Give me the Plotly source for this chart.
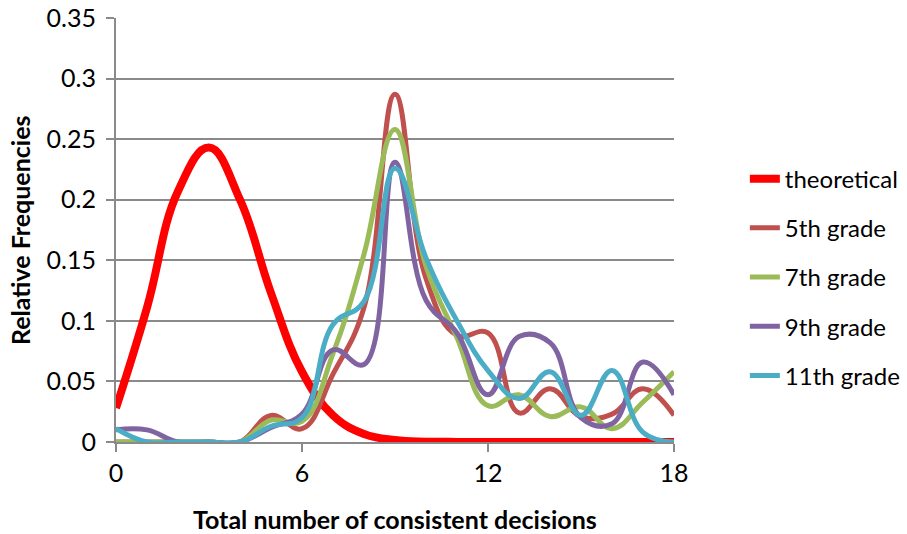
import plotly.graph_objects as go

x_vals = list(range(19))

theoretical = [0.028, 0.111, 0.207, 0.243, 0.200, 0.123, 0.058, 0.022, 0.0066, 0.0016,
               0.0003, 0.0001, 0, 0, 0, 0, 0, 0, 0]
grade5 = [0, 0, 0, 0, 0, 0.022, 0.011, 0.056, 0.111, 0.287, 0.135, 0.088, 0.090, 0.024,
          0.044, 0.021, 0.023, 0.044, 0.022]
grade7 = [0, 0, 0, 0, 0, 0.018, 0.017, 0.073, 0.155, 0.258, 0.145, 0.086, 0.030, 0.039,
          0.021, 0.029, 0.011, 0.033, 0.058]
grade9 = [0.010, 0.010, 0, 0, 0, 0.012, 0.023, 0.076, 0.064, 0.231, 0.117, 0.090, 0.039,
          0.087, 0.082, 0.020, 0.015, 0.066, 0.039]
grade11 = [0.011, 0, 0, 0, 0, 0.013, 0.020, 0.097, 0.116, 0.226, 0.152, 0.100, 0.059,
           0.036, 0.058, 0.022, 0.059, 0.008, 0]

series_names = ["theoretical", "5th grade", "7th grade", "9th grade", "11th grade"]
series_values = [theoretical, grade5, grade7, grade9, grade11]
series_colors = ["#FF0000", "#C0504D", "#9BBB59", "#8064A2", "#4BACC6"]
series_widths = [8, 5, 5, 5, 5]

x_ticks = [0, 6, 12, 18]
y_ticks = [0, 0.05, 0.1, 0.15, 0.2, 0.25, 0.3, 0.35]
y_ticktext = ["0", "0.05", "0.1", "0.15", "0.2", "0.25", "0.3", "0.35"]

x_title = "Total number of consistent decisions"
y_title = "Relative Frequencies"

FONT = "Lato"
GRID = "#8a8a8a"

fig = go.Figure()
for name, vals, col, w in zip(series_names, series_values, series_colors, series_widths):
    fig.add_trace(go.Scatter(
        x=x_vals, y=vals, name=name, mode="lines",
        line=dict(color=col, width=w, shape="spline", smoothing=1.2),
        legendgroup=name,
    ))

fig.update_layout(
    width=907, height=534,
    margin=dict(l=116, r=233, t=18, b=92, autoexpand=False),
    paper_bgcolor="white", plot_bgcolor="white",
    font=dict(family=FONT, size=24, color="#000000"),
    showlegend=True,
    legend=dict(
        x=1.127, xanchor="left", y=0.389, yanchor="middle",
        font=dict(family=FONT, size=24, color="#000000"),
        tracegroupgap=15, bgcolor="rgba(0,0,0,0)",
    ),
    xaxis=dict(
        range=[0, 18], tickvals=x_ticks, ticktext=[str(v) for v in x_ticks],
        showgrid=False, zeroline=False, automargin=False,
        showline=True, linecolor=GRID, linewidth=2,
        ticks="outside", ticklen=8, tickwidth=2, tickcolor=GRID,
        tickfont=dict(family=FONT, size=25), ticklabeloverflow="allow",
    ),
    yaxis=dict(
        range=[0, 0.35], tickvals=y_ticks, ticktext=y_ticktext,
        showgrid=True, gridcolor=GRID, gridwidth=2,
        zeroline=False, automargin=False,
        showline=True, linecolor=GRID, linewidth=2,
        ticks="outside", ticklen=8, tickwidth=2, tickcolor=GRID,
        tickfont=dict(family=FONT, size=25), ticklabelstandoff=5,
        ticklabeloverflow="allow",
    ),
    annotations=[
        dict(text="<b>" + x_title + "</b>", xref="paper", yref="paper",
             x=0.5, y=0, xanchor="center", yanchor="middle", yshift=-77,
             showarrow=False, font=dict(family=FONT, size=25, color="#000000")),
        dict(text="<b>" + y_title + "</b>", xref="paper", yref="paper",
             x=0, y=0.5, xanchor="center", yanchor="middle", xshift=-96,
             textangle=-90, showarrow=False,
             font=dict(family=FONT, size=25, color="#000000")),
    ],
)

fig.write_html("out.html", config={"displayModeBar": False},
               post_script="document.body.style.margin='0';")
